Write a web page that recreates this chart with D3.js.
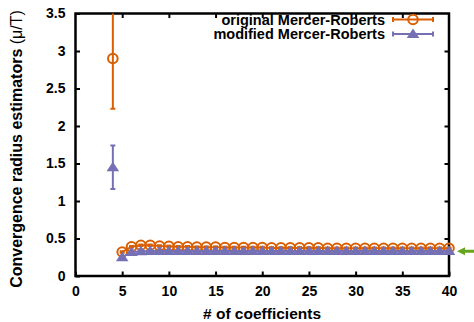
<!DOCTYPE html>
<html>
<head>
<meta charset="utf-8">
<script src="https://cdn.jsdelivr.net/npm/d3@7"></script>
<style>
  body { margin: 0; background: #fff; }
  svg { display: block; font-family: "Liberation Sans", Arial, sans-serif; }
</style>
</head>
<body>
<svg id="chart" width="474" height="322"></svg>
<script>
// Number of coefficients used in each estimate
const nCoeffs = [4, 5, 6, 7, 8, 9, 10, 11, 12, 13, 14, 15, 16, 17, 18, 19, 20, 21, 22,
  23, 24, 25, 26, 27, 28, 29, 30, 31, 32, 33, 34, 35, 36, 37, 38, 39, 40];

// Original Mercer-Roberts estimator and its uncertainty
const originalMR = [2.90, 0.32, 0.39, 0.41, 0.41, 0.40, 0.395, 0.39, 0.39, 0.385, 0.385,
  0.385, 0.38, 0.38, 0.38, 0.38, 0.38, 0.375, 0.375, 0.375, 0.375, 0.375, 0.375, 0.37,
  0.37, 0.37, 0.37, 0.37, 0.37, 0.37, 0.37, 0.37, 0.37, 0.37, 0.37, 0.37, 0.37];
const originalErr = [0.67, 0.01, 0.01, 0.01, 0.01, 0.01, 0.01, 0.01, 0.01, 0.01, 0.01,
  0.01, 0.01, 0.01, 0.01, 0.01, 0.01, 0.01, 0.01, 0.01, 0.01, 0.01, 0.01, 0.01, 0.01,
  0.01, 0.01, 0.01, 0.01, 0.01, 0.01, 0.01, 0.01, 0.01, 0.01, 0.01, 0.01];

// Modified Mercer-Roberts estimator and its uncertainty
const modifiedMR = [1.45, 0.25, 0.32, 0.33, 0.335, 0.335, 0.335, 0.335, 0.335, 0.335,
  0.335, 0.335, 0.335, 0.335, 0.335, 0.335, 0.335, 0.335, 0.335, 0.335, 0.335, 0.335,
  0.335, 0.335, 0.335, 0.335, 0.335, 0.335, 0.335, 0.335, 0.335, 0.335, 0.335, 0.335,
  0.335, 0.335, 0.335];
const modifiedErr = [0.29, 0.01, 0.01, 0.01, 0.01, 0.01, 0.01, 0.01, 0.01, 0.01, 0.01,
  0.01, 0.01, 0.01, 0.01, 0.01, 0.01, 0.01, 0.01, 0.01, 0.01, 0.01, 0.01, 0.01, 0.01,
  0.01, 0.01, 0.01, 0.01, 0.01, 0.01, 0.01, 0.01, 0.01, 0.01, 0.01, 0.01];

// Reference value marked by the arrow on the right edge
const referenceValue = [0.33];

const xTicks = [0, 5, 10, 15, 20, 25, 30, 35, 40];
const yTicks = [0, 0.5, 1, 1.5, 2, 2.5, 3, 3.5];
const seriesNames = ["original Mercer-Roberts", "modified Mercer-Roberts"];

const ORANGE = "#d95f02", PURPLE = "#7570b3", GREEN = "#66a61e";
const L = 75.5, R = 449, T = 13.5, B = 276;

const svg = d3.select("#chart");
const x = d3.scaleLinear().domain([0, 40]).range([L, R]);
const y = d3.scaleLinear().domain([0, 3.5]).range([B, T]);
const fmt = d => String(d);

// Axes with inward ticks on all four sides
const tickLen = 4.5;
svg.append("g").attr("transform", `translate(0,${B})`)
  .call(d3.axisBottom(x).tickValues(xTicks).tickFormat(fmt).tickSizeInner(-tickLen).tickSizeOuter(0).tickPadding(10))
  .call(g => g.select(".domain").remove());
svg.append("g").attr("transform", `translate(0,${T})`)
  .call(d3.axisTop(x).tickValues(xTicks.slice(1, -1)).tickSizeInner(-tickLen).tickSizeOuter(0).tickFormat(""))
  .call(g => g.select(".domain").remove());
svg.append("g").attr("transform", `translate(${L},0)`)
  .call(d3.axisLeft(y).tickValues(yTicks).tickFormat(fmt).tickSizeInner(-tickLen).tickSizeOuter(0).tickPadding(10))
  .call(g => g.select(".domain").remove());
svg.append("g").attr("transform", `translate(${R},0)`)
  .call(d3.axisRight(y).tickValues(yTicks.slice(1, -1)).tickSizeInner(-tickLen).tickSizeOuter(0).tickFormat(""))
  .call(g => g.select(".domain").remove());

svg.selectAll(".tick line").attr("stroke", "#000").attr("stroke-width", 2);
svg.selectAll(".tick text").attr("font-size", 14).attr("font-weight", "bold")
  .attr("fill", "#000").attr("font-family", "Liberation Sans, Arial, sans-serif");

// Plot frame
svg.append("rect").attr("x", L).attr("y", T).attr("width", R - L).attr("height", B - T)
  .attr("fill", "none").attr("stroke", "#000").attr("stroke-width", 2.5);

// Axis titles
svg.append("text").attr("x", 262).attr("y", 319).attr("text-anchor", "middle")
  .attr("font-size", 15.5).attr("font-weight", "bold").text("# of coefficients");
const yt = svg.append("text").attr("transform", `translate(22,149) rotate(-90)`)
  .attr("text-anchor", "middle").attr("font-size", 16).attr("font-weight", "bold");
yt.append("tspan").text("Convergence radius estimators ");
yt.append("tspan").attr("font-weight", "normal").text("(μ/T)");

const ymax = 3.5;
function drawSeries(vals, errs, color, symbol) {
  const g = svg.append("g");
  const pts = nCoeffs.map((n, i) => ({ n, v: vals[i], e: errs[i] }));
  // the n = 4 estimate stands alone; the line joins n >= 5
  g.append("path").datum(pts.filter(d => d.n >= 5))
    .attr("d", d3.line().x(d => x(d.n)).y(d => y(d.v)))
    .attr("fill", "none").attr("stroke", color).attr("stroke-width", 2);
  // error bars, clipped at the top of the range
  pts.forEach(d => {
    const hi = Math.min(d.v + d.e, ymax), lo = d.v - d.e;
    g.append("line").attr("x1", x(d.n)).attr("x2", x(d.n))
      .attr("y1", y(hi)).attr("y2", y(lo)).attr("stroke", color).attr("stroke-width", 2);
    [hi, lo].forEach(v => {
      if (v >= ymax) return;
      g.append("line").attr("x1", x(d.n) - 2.5).attr("x2", x(d.n) + 2.5)
        .attr("y1", y(v)).attr("y2", y(v)).attr("stroke", color).attr("stroke-width", 2);
    });
  });
  pts.forEach(d => symbol(g, x(d.n), y(d.v)));
}

function circleSym(g, cx, cy) {
  g.append("circle").attr("cx", cx).attr("cy", cy).attr("r", 4.8)
    .attr("fill", "none").attr("stroke", ORANGE).attr("stroke-width", 2);
}
function triSym(g, cx, cy) {
  g.append("path").attr("d", `M${cx},${cy - 5.5}L${cx + 6.3},${cy + 4}L${cx - 6.3},${cy + 4}Z`)
    .attr("fill", PURPLE);
}

drawSeries(originalMR, originalErr, ORANGE, circleSym);
drawSeries(modifiedMR, modifiedErr, PURPLE, triSym);

// Legend
const legend = [
  { name: seriesNames[0], color: ORANGE, sym: circleSym, y: 19.5 },
  { name: seriesNames[1], color: PURPLE, sym: triSym, y: 34 }
];
legend.forEach(d => {
  svg.append("text").attr("x", 385).attr("y", d.y + 5).attr("text-anchor", "end")
    .attr("font-size", 14.5).attr("font-weight", "bold").text(d.name);
  const g = svg.append("g");
  g.append("line").attr("x1", 393).attr("x2", 433).attr("y1", d.y).attr("y2", d.y)
    .attr("stroke", d.color).attr("stroke-width", 2);
  [393, 433].forEach(xx => g.append("line").attr("x1", xx).attr("x2", xx)
    .attr("y1", d.y - 2.5).attr("y2", d.y + 2.5).attr("stroke", d.color).attr("stroke-width", 2));
  d.sym(g, 413, d.y);
});

// Reference arrow outside the right edge
const ay = y(referenceValue[0]);
svg.append("line").attr("x1", 474).attr("x2", 464).attr("y1", ay).attr("y2", ay)
  .attr("stroke", GREEN).attr("stroke-width", 3);
svg.append("path").attr("d", `M457,${ay}L465,${ay - 4}L465,${ay + 4}Z`).attr("fill", GREEN);
</script>
</body>
</html>
